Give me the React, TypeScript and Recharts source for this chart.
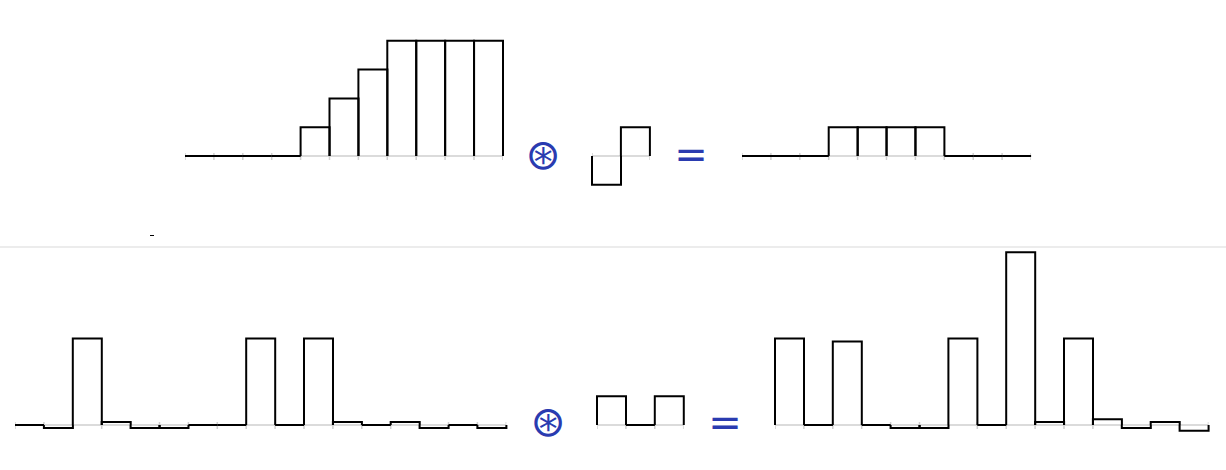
import { ComposedChart, Bar, Line, Scatter, XAxis, YAxis } from 'recharts';

// samples of each signal, one value per cell
const rampInput = [0, 0, 0, 0, 1, 2, 3, 4, 4, 4, 4];
const diffKernel = [-1, 1];
const diffResult = [0, 0, 0, 1, 1, 1, 1, 0, 0, 0];

const spikeInput = [0, -0.1, 3, 0.1, -0.1, -0.1, 0, 0, 3, 0, 3, 0.1, 0, 0.1, -0.1, 0, -0.1];
const pairKernel = [1, 0, 1];
const pairResult = [3, 0, 2.9, 0, -0.1, -0.1, 3, 0, 6, 0.1, 3, 0.2, -0.1, 0.1, -0.2];

const STEP = 28.9; // px per sample
const UNIT = 28.8; // px per unit of value
const PAD = 8;
const BLUE = '#2a3bb0';

const StepBar = (props: any) => {
  const { x, y, width, height, payload } = props;
  if (x == null || y == null) return null;
  const v = payload?.v ?? 0;
  const a = y;
  const b = y + (height || 0);
  let base = v >= 0 ? Math.max(a, b) : Math.min(a, b);
  let tip = v >= 0 ? Math.min(a, b) : Math.max(a, b);
  if (v === 0) {
    // minPointSize nudges zero cells a hair; flatten them back onto the baseline
    base = Math.max(a, b);
    tip = base;
  }
  return (
    <path
      d={`M${x},${base}V${tip}H${x + width}V${base}`}
      fill="none"
      stroke="#000"
      strokeWidth={2}
    />
  );
};

const TickMark = (props: any) => {
  const { cx, cy } = props;
  return <line x1={cx} x2={cx} y1={cy - 3} y2={cy + 4} stroke="#cfcfcf" strokeWidth={1.5} />;
};

function Signal({ values, left, baseline, hi, lo = -1.25 }: { values: number[]; left: number; baseline: number; hi: number; lo?: number }) {
  const n = values.length;
  const bars = values.map((v, i) => ({ i: String(i), v }));
  const marks = Array.from({ length: n + 1 }, (_, i) => ({ t: i, y: 0 }));
  const width = n * STEP + PAD * 2;
  const height = (hi - lo) * UNIT + PAD * 2;
  const margin = { top: PAD, right: PAD, bottom: PAD, left: PAD };
  const layer = { position: 'absolute' as const, left: 0, top: 0 };
  return (
    <div style={{ position: 'absolute', left: left - PAD, top: baseline - hi * UNIT - PAD, width, height }}>
      {/* grey axis with cell edges, underneath */}
      <div style={layer}>
        <ComposedChart width={width} height={height} data={marks} margin={margin}>
          <XAxis type="number" dataKey="t" domain={[0, n]} hide allowDataOverflow />
          <YAxis type="number" domain={[lo, hi]} hide allowDataOverflow />
          <Line dataKey="y" stroke="#cfcfcf" strokeWidth={1.5} dot={false} activeDot={false} isAnimationActive={false} />
          <Scatter dataKey="y" shape={TickMark} isAnimationActive={false} />
        </ComposedChart>
      </div>
      {/* the signal itself, on top */}
      <div style={layer}>
        <ComposedChart width={width} height={height} data={bars} margin={margin} barCategoryGap={0} barGap={0}>
          <XAxis type="category" dataKey="i" hide />
          <YAxis type="number" domain={[lo, hi]} hide allowDataOverflow />
          <Bar dataKey="v" shape={StepBar} minPointSize={0.01} isAnimationActive={false} />
        </ComposedChart>
      </div>
    </div>
  );
}

function Glyph({ ch, cx, cy, size }: { ch: string; cx: number; cy: number; size: number }) {
  return (
    <div
      style={{
        position: 'absolute',
        left: cx - 40,
        top: cy - 40,
        width: 80,
        height: 80,
        display: 'flex',
        alignItems: 'center',
        justifyContent: 'center',
        fontFamily: '"DejaVu Sans", sans-serif',
        fontSize: size,
        lineHeight: 1,
        color: BLUE,
      }}
    >
      {ch}
    </div>
  );
}

export default function App() {
  return (
    <div style={{ position: 'absolute', left: 0, top: 0, width: 1226, height: 470, background: '#fff', overflow: 'hidden' }}>
      <Signal values={rampInput} left={185} baseline={156} hi={5} />
      <Glyph ch="⊛" cx={543} cy={155} size={42} />
      <Signal values={diffKernel} left={592} baseline={156} hi={1.25} />
      <Glyph ch="=" cx={691} cy={154} size={40} />
      <Signal values={diffResult} left={742} baseline={156} hi={5} />

      <div style={{ position: 'absolute', left: 150, top: 235, width: 4, height: 1, background: '#000' }} />
      <div style={{ position: 'absolute', left: 0, top: 246, width: 1226, height: 2, background: '#ececec' }} />

      <Signal values={spikeInput} left={15} baseline={425} hi={6.25} />
      <Glyph ch="⊛" cx={548} cy={422} size={42} />
      <Signal values={pairKernel} left={597} baseline={425} hi={1.25} />
      <Glyph ch="=" cx={725} cy={422} size={40} />
      <Signal values={pairResult} left={775} baseline={425} hi={6.25} />
    </div>
  );
}
